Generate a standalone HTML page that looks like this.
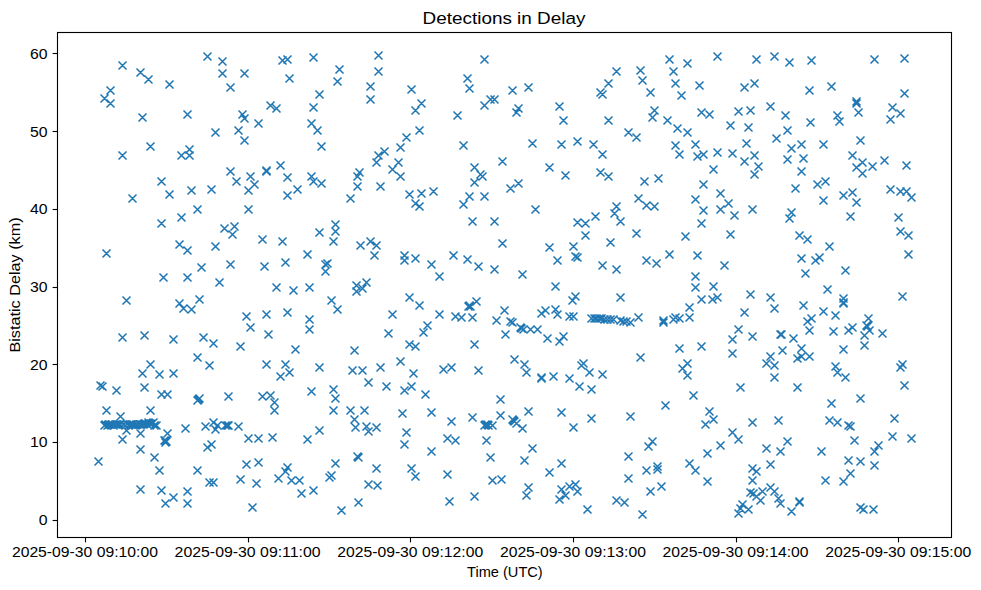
<!DOCTYPE html>
<html><head><meta charset="utf-8"><title>Detections in Delay</title>
<style>html,body{margin:0;padding:0;background:#fff;}svg{display:block;font-family:"Liberation Sans",sans-serif;}</style></head>
<body>
<svg width="981" height="590" viewBox="0 0 981 590">
<rect width="981" height="590" fill="#fff"/>
<g stroke="#1f77b4" stroke-width="1.55" fill="none">
<path d="M94.5,457.5l8,8m-8,0l8,-8M96.5,381.5l8,8m-8,0l8,-8M98.5,382.5l8,8m-8,0l8,-8M100.5,94.5l8,8m-8,0l8,-8M100.5,421.5l8,8m-8,0l8,-8M101.5,420.5l8,8m-8,0l8,-8M102.5,249.5l8,8m-8,0l8,-8M102.5,406.5l8,8m-8,0l8,-8M103.5,421.5l8,8m-8,0l8,-8M104.5,420.5l8,8m-8,0l8,-8M105.5,420.5l8,8m-8,0l8,-8M106.5,86.5l8,8m-8,0l8,-8M106.5,99.5l8,8m-8,0l8,-8M107.5,420.5l8,8m-8,0l8,-8M108.5,420.5l8,8m-8,0l8,-8M109.5,421.5l8,8m-8,0l8,-8M111.5,420.5l8,8m-8,0l8,-8M112.5,386.5l8,8m-8,0l8,-8M112.5,420.5l8,8m-8,0l8,-8M113.5,420.5l8,8m-8,0l8,-8M115.5,420.5l8,8m-8,0l8,-8M116.5,412.5l8,8m-8,0l8,-8M116.5,420.5l8,8m-8,0l8,-8M118.5,61.5l8,8m-8,0l8,-8M118.5,151.5l8,8m-8,0l8,-8M118.5,333.5l8,8m-8,0l8,-8M118.5,435.5l8,8m-8,0l8,-8M119.5,420.5l8,8m-8,0l8,-8M121.5,421.5l8,8m-8,0l8,-8M122.5,296.5l8,8m-8,0l8,-8M122.5,426.5l8,8m-8,0l8,-8M124.5,421.5l8,8m-8,0l8,-8M125.5,420.5l8,8m-8,0l8,-8M127.5,420.5l8,8m-8,0l8,-8M128.5,194.5l8,8m-8,0l8,-8M128.5,420.5l8,8m-8,0l8,-8M129.5,420.5l8,8m-8,0l8,-8M131.5,421.5l8,8m-8,0l8,-8M132.5,420.5l8,8m-8,0l8,-8M133.5,420.5l8,8m-8,0l8,-8"/>
<path d="M135.5,420.5l8,8m-8,0l8,-8M136.5,68.5l8,8m-8,0l8,-8M136.5,420.5l8,8m-8,0l8,-8M136.5,429.5l8,8m-8,0l8,-8M136.5,445.5l8,8m-8,0l8,-8M136.5,485.5l8,8m-8,0l8,-8M137.5,420.5l8,8m-8,0l8,-8M138.5,113.5l8,8m-8,0l8,-8M138.5,369.5l8,8m-8,0l8,-8M139.5,420.5l8,8m-8,0l8,-8M140.5,331.5l8,8m-8,0l8,-8M140.5,383.5l8,8m-8,0l8,-8M140.5,419.5l8,8m-8,0l8,-8M141.5,419.5l8,8m-8,0l8,-8M143.5,420.5l8,8m-8,0l8,-8M144.5,75.5l8,8m-8,0l8,-8M144.5,418.5l8,8m-8,0l8,-8M145.5,419.5l8,8m-8,0l8,-8M146.5,142.5l8,8m-8,0l8,-8M146.5,360.5l8,8m-8,0l8,-8M146.5,406.5l8,8m-8,0l8,-8M146.5,419.5l8,8m-8,0l8,-8M148.5,419.5l8,8m-8,0l8,-8M149.5,418.5l8,8m-8,0l8,-8M150.5,421.5l8,8m-8,0l8,-8M150.5,453.5l8,8m-8,0l8,-8M152.5,421.5l8,8m-8,0l8,-8M155.5,370.5l8,8m-8,0l8,-8M155.5,466.5l8,8m-8,0l8,-8M157.5,177.5l8,8m-8,0l8,-8M157.5,219.5l8,8m-8,0l8,-8M157.5,390.5l8,8m-8,0l8,-8M157.5,486.5l8,8m-8,0l8,-8M159.5,273.5l8,8m-8,0l8,-8M160.5,436.5l8,8m-8,0l8,-8M161.5,436.5l8,8m-8,0l8,-8M161.5,438.5l8,8m-8,0l8,-8M161.5,499.5l8,8m-8,0l8,-8M162.5,437.5l8,8m-8,0l8,-8M163.5,390.5l8,8m-8,0l8,-8"/>
<path d="M163.5,429.5l8,8m-8,0l8,-8M165.5,80.5l8,8m-8,0l8,-8M165.5,190.5l8,8m-8,0l8,-8M169.5,335.5l8,8m-8,0l8,-8M169.5,369.5l8,8m-8,0l8,-8M169.5,493.5l8,8m-8,0l8,-8M175.5,240.5l8,8m-8,0l8,-8M175.5,299.5l8,8m-8,0l8,-8M177.5,151.5l8,8m-8,0l8,-8M177.5,213.5l8,8m-8,0l8,-8M179.5,304.5l8,8m-8,0l8,-8M181.5,424.5l8,8m-8,0l8,-8M183.5,110.5l8,8m-8,0l8,-8M183.5,246.5l8,8m-8,0l8,-8M183.5,273.5l8,8m-8,0l8,-8M183.5,487.5l8,8m-8,0l8,-8M183.5,499.5l8,8m-8,0l8,-8M185.5,145.5l8,8m-8,0l8,-8M185.5,151.5l8,8m-8,0l8,-8M187.5,186.5l8,8m-8,0l8,-8M187.5,305.5l8,8m-8,0l8,-8M193.5,205.5l8,8m-8,0l8,-8M193.5,353.5l8,8m-8,0l8,-8M193.5,396.5l8,8m-8,0l8,-8M193.5,466.5l8,8m-8,0l8,-8M194.5,395.5l8,8m-8,0l8,-8M195.5,295.5l8,8m-8,0l8,-8M195.5,394.5l8,8m-8,0l8,-8M197.5,263.5l8,8m-8,0l8,-8M199.5,333.5l8,8m-8,0l8,-8M201.5,422.5l8,8m-8,0l8,-8M203.5,52.5l8,8m-8,0l8,-8M203.5,443.5l8,8m-8,0l8,-8M205.5,361.5l8,8m-8,0l8,-8M205.5,478.5l8,8m-8,0l8,-8M207.5,185.5l8,8m-8,0l8,-8M207.5,440.5l8,8m-8,0l8,-8M209.5,339.5l8,8m-8,0l8,-8M209.5,418.5l8,8m-8,0l8,-8M209.5,478.5l8,8m-8,0l8,-8"/>
<path d="M211.5,128.5l8,8m-8,0l8,-8M211.5,242.5l8,8m-8,0l8,-8M211.5,425.5l8,8m-8,0l8,-8M213.5,421.5l8,8m-8,0l8,-8M215.5,278.5l8,8m-8,0l8,-8M218.5,57.5l8,8m-8,0l8,-8M218.5,69.5l8,8m-8,0l8,-8M220.5,224.5l8,8m-8,0l8,-8M221.5,421.5l8,8m-8,0l8,-8M223.5,421.5l8,8m-8,0l8,-8M224.5,392.5l8,8m-8,0l8,-8M224.5,421.5l8,8m-8,0l8,-8M226.5,83.5l8,8m-8,0l8,-8M226.5,167.5l8,8m-8,0l8,-8M226.5,260.5l8,8m-8,0l8,-8M228.5,230.5l8,8m-8,0l8,-8M230.5,222.5l8,8m-8,0l8,-8M232.5,177.5l8,8m-8,0l8,-8M234.5,126.5l8,8m-8,0l8,-8M234.5,422.5l8,8m-8,0l8,-8M236.5,342.5l8,8m-8,0l8,-8M236.5,475.5l8,8m-8,0l8,-8M238.5,110.5l8,8m-8,0l8,-8M240.5,69.5l8,8m-8,0l8,-8M240.5,114.5l8,8m-8,0l8,-8M240.5,136.5l8,8m-8,0l8,-8M242.5,312.5l8,8m-8,0l8,-8M242.5,460.5l8,8m-8,0l8,-8M244.5,186.5l8,8m-8,0l8,-8M244.5,205.5l8,8m-8,0l8,-8M244.5,434.5l8,8m-8,0l8,-8M246.5,172.5l8,8m-8,0l8,-8M246.5,323.5l8,8m-8,0l8,-8M248.5,503.5l8,8m-8,0l8,-8M250.5,180.5l8,8m-8,0l8,-8M252.5,479.5l8,8m-8,0l8,-8M254.5,119.5l8,8m-8,0l8,-8M254.5,434.5l8,8m-8,0l8,-8M254.5,458.5l8,8m-8,0l8,-8M258.5,235.5l8,8m-8,0l8,-8"/>
<path d="M258.5,392.5l8,8m-8,0l8,-8M260.5,262.5l8,8m-8,0l8,-8M262.5,166.5l8,8m-8,0l8,-8M262.5,167.5l8,8m-8,0l8,-8M262.5,310.5l8,8m-8,0l8,-8M262.5,360.5l8,8m-8,0l8,-8M264.5,330.5l8,8m-8,0l8,-8M266.5,101.5l8,8m-8,0l8,-8M266.5,391.5l8,8m-8,0l8,-8M268.5,433.5l8,8m-8,0l8,-8M270.5,398.5l8,8m-8,0l8,-8M270.5,406.5l8,8m-8,0l8,-8M272.5,104.5l8,8m-8,0l8,-8M272.5,283.5l8,8m-8,0l8,-8M274.5,474.5l8,8m-8,0l8,-8M276.5,161.5l8,8m-8,0l8,-8M276.5,372.5l8,8m-8,0l8,-8M278.5,56.5l8,8m-8,0l8,-8M278.5,237.5l8,8m-8,0l8,-8M281.5,258.5l8,8m-8,0l8,-8M281.5,360.5l8,8m-8,0l8,-8M281.5,467.5l8,8m-8,0l8,-8M283.5,55.5l8,8m-8,0l8,-8M283.5,173.5l8,8m-8,0l8,-8M283.5,191.5l8,8m-8,0l8,-8M283.5,308.5l8,8m-8,0l8,-8M283.5,463.5l8,8m-8,0l8,-8M285.5,74.5l8,8m-8,0l8,-8M285.5,368.5l8,8m-8,0l8,-8M287.5,476.5l8,8m-8,0l8,-8M289.5,286.5l8,8m-8,0l8,-8M291.5,345.5l8,8m-8,0l8,-8M293.5,185.5l8,8m-8,0l8,-8M295.5,476.5l8,8m-8,0l8,-8M297.5,489.5l8,8m-8,0l8,-8M303.5,250.5l8,8m-8,0l8,-8M303.5,435.5l8,8m-8,0l8,-8M305.5,283.5l8,8m-8,0l8,-8M305.5,315.5l8,8m-8,0l8,-8M305.5,325.5l8,8m-8,0l8,-8"/>
<path d="M307.5,119.5l8,8m-8,0l8,-8M307.5,172.5l8,8m-8,0l8,-8M307.5,387.5l8,8m-8,0l8,-8M309.5,53.5l8,8m-8,0l8,-8M309.5,103.5l8,8m-8,0l8,-8M309.5,177.5l8,8m-8,0l8,-8M309.5,486.5l8,8m-8,0l8,-8M313.5,126.5l8,8m-8,0l8,-8M315.5,90.5l8,8m-8,0l8,-8M315.5,228.5l8,8m-8,0l8,-8M315.5,363.5l8,8m-8,0l8,-8M315.5,426.5l8,8m-8,0l8,-8M317.5,142.5l8,8m-8,0l8,-8M317.5,179.5l8,8m-8,0l8,-8M321.5,260.5l8,8m-8,0l8,-8M321.5,267.5l8,8m-8,0l8,-8M323.5,259.5l8,8m-8,0l8,-8M325.5,473.5l8,8m-8,0l8,-8M327.5,296.5l8,8m-8,0l8,-8M327.5,471.5l8,8m-8,0l8,-8M329.5,237.5l8,8m-8,0l8,-8M329.5,385.5l8,8m-8,0l8,-8M329.5,406.5l8,8m-8,0l8,-8M331.5,220.5l8,8m-8,0l8,-8M331.5,227.5l8,8m-8,0l8,-8M331.5,394.5l8,8m-8,0l8,-8M331.5,459.5l8,8m-8,0l8,-8M333.5,77.5l8,8m-8,0l8,-8M333.5,305.5l8,8m-8,0l8,-8M335.5,65.5l8,8m-8,0l8,-8M337.5,506.5l8,8m-8,0l8,-8M346.5,194.5l8,8m-8,0l8,-8M346.5,406.5l8,8m-8,0l8,-8M348.5,366.5l8,8m-8,0l8,-8M350.5,346.5l8,8m-8,0l8,-8M350.5,415.5l8,8m-8,0l8,-8M351.5,423.5l8,8m-8,0l8,-8M352.5,281.5l8,8m-8,0l8,-8M352.5,287.5l8,8m-8,0l8,-8M353.5,172.5l8,8m-8,0l8,-8"/>
<path d="M353.5,182.5l8,8m-8,0l8,-8M353.5,452.5l8,8m-8,0l8,-8M354.5,453.5l8,8m-8,0l8,-8M354.5,498.5l8,8m-8,0l8,-8M355.5,168.5l8,8m-8,0l8,-8M356.5,241.5l8,8m-8,0l8,-8M358.5,284.5l8,8m-8,0l8,-8M358.5,366.5l8,8m-8,0l8,-8M360.5,406.5l8,8m-8,0l8,-8M362.5,278.5l8,8m-8,0l8,-8M362.5,422.5l8,8m-8,0l8,-8M364.5,378.5l8,8m-8,0l8,-8M364.5,427.5l8,8m-8,0l8,-8M364.5,480.5l8,8m-8,0l8,-8M366.5,82.5l8,8m-8,0l8,-8M366.5,95.5l8,8m-8,0l8,-8M366.5,237.5l8,8m-8,0l8,-8M370.5,251.5l8,8m-8,0l8,-8M372.5,158.5l8,8m-8,0l8,-8M372.5,241.5l8,8m-8,0l8,-8M372.5,423.5l8,8m-8,0l8,-8M372.5,464.5l8,8m-8,0l8,-8M373.5,481.5l8,8m-8,0l8,-8M374.5,51.5l8,8m-8,0l8,-8M374.5,67.5l8,8m-8,0l8,-8M374.5,151.5l8,8m-8,0l8,-8M376.5,182.5l8,8m-8,0l8,-8M376.5,363.5l8,8m-8,0l8,-8M380.5,147.5l8,8m-8,0l8,-8M382.5,382.5l8,8m-8,0l8,-8M384.5,329.5l8,8m-8,0l8,-8M388.5,165.5l8,8m-8,0l8,-8M388.5,310.5l8,8m-8,0l8,-8M394.5,158.5l8,8m-8,0l8,-8M396.5,143.5l8,8m-8,0l8,-8M396.5,172.5l8,8m-8,0l8,-8M396.5,357.5l8,8m-8,0l8,-8M398.5,409.5l8,8m-8,0l8,-8M400.5,251.5l8,8m-8,0l8,-8M400.5,256.5l8,8m-8,0l8,-8"/>
<path d="M400.5,386.5l8,8m-8,0l8,-8M400.5,440.5l8,8m-8,0l8,-8M402.5,133.5l8,8m-8,0l8,-8M402.5,428.5l8,8m-8,0l8,-8M405.5,190.5l8,8m-8,0l8,-8M405.5,293.5l8,8m-8,0l8,-8M405.5,340.5l8,8m-8,0l8,-8M407.5,85.5l8,8m-8,0l8,-8M407.5,382.5l8,8m-8,0l8,-8M407.5,464.5l8,8m-8,0l8,-8M409.5,369.5l8,8m-8,0l8,-8M411.5,106.5l8,8m-8,0l8,-8M411.5,199.5l8,8m-8,0l8,-8M411.5,254.5l8,8m-8,0l8,-8M411.5,342.5l8,8m-8,0l8,-8M411.5,472.5l8,8m-8,0l8,-8M415.5,126.5l8,8m-8,0l8,-8M415.5,202.5l8,8m-8,0l8,-8M415.5,301.5l8,8m-8,0l8,-8M417.5,99.5l8,8m-8,0l8,-8M417.5,189.5l8,8m-8,0l8,-8M419.5,328.5l8,8m-8,0l8,-8M421.5,390.5l8,8m-8,0l8,-8M423.5,321.5l8,8m-8,0l8,-8M427.5,260.5l8,8m-8,0l8,-8M427.5,408.5l8,8m-8,0l8,-8M427.5,447.5l8,8m-8,0l8,-8M429.5,187.5l8,8m-8,0l8,-8M435.5,272.5l8,8m-8,0l8,-8M435.5,310.5l8,8m-8,0l8,-8M439.5,365.5l8,8m-8,0l8,-8M443.5,434.5l8,8m-8,0l8,-8M443.5,470.5l8,8m-8,0l8,-8M445.5,497.5l8,8m-8,0l8,-8M447.5,363.5l8,8m-8,0l8,-8M447.5,417.5l8,8m-8,0l8,-8M449.5,251.5l8,8m-8,0l8,-8M451.5,312.5l8,8m-8,0l8,-8M451.5,436.5l8,8m-8,0l8,-8M453.5,111.5l8,8m-8,0l8,-8"/>
<path d="M457.5,313.5l8,8m-8,0l8,-8M459.5,141.5l8,8m-8,0l8,-8M459.5,200.5l8,8m-8,0l8,-8M463.5,74.5l8,8m-8,0l8,-8M463.5,255.5l8,8m-8,0l8,-8M464.5,302.5l8,8m-8,0l8,-8M465.5,84.5l8,8m-8,0l8,-8M465.5,192.5l8,8m-8,0l8,-8M465.5,301.5l8,8m-8,0l8,-8M466.5,302.5l8,8m-8,0l8,-8M468.5,217.5l8,8m-8,0l8,-8M468.5,313.5l8,8m-8,0l8,-8M468.5,413.5l8,8m-8,0l8,-8M470.5,163.5l8,8m-8,0l8,-8M470.5,178.5l8,8m-8,0l8,-8M470.5,340.5l8,8m-8,0l8,-8M470.5,492.5l8,8m-8,0l8,-8M472.5,297.5l8,8m-8,0l8,-8M474.5,262.5l8,8m-8,0l8,-8M474.5,366.5l8,8m-8,0l8,-8M476.5,170.5l8,8m-8,0l8,-8M478.5,172.5l8,8m-8,0l8,-8M480.5,55.5l8,8m-8,0l8,-8M480.5,101.5l8,8m-8,0l8,-8M480.5,192.5l8,8m-8,0l8,-8M480.5,421.5l8,8m-8,0l8,-8M481.5,420.5l8,8m-8,0l8,-8M482.5,436.5l8,8m-8,0l8,-8M483.5,420.5l8,8m-8,0l8,-8M484.5,421.5l8,8m-8,0l8,-8M486.5,95.5l8,8m-8,0l8,-8M486.5,453.5l8,8m-8,0l8,-8M488.5,421.5l8,8m-8,0l8,-8M488.5,476.5l8,8m-8,0l8,-8M490.5,95.5l8,8m-8,0l8,-8M490.5,217.5l8,8m-8,0l8,-8M490.5,265.5l8,8m-8,0l8,-8M492.5,316.5l8,8m-8,0l8,-8M496.5,395.5l8,8m-8,0l8,-8M496.5,411.5l8,8m-8,0l8,-8"/>
<path d="M497.5,475.5l8,8m-8,0l8,-8M498.5,157.5l8,8m-8,0l8,-8M498.5,239.5l8,8m-8,0l8,-8M500.5,306.5l8,8m-8,0l8,-8M501.5,330.5l8,8m-8,0l8,-8M506.5,184.5l8,8m-8,0l8,-8M506.5,317.5l8,8m-8,0l8,-8M508.5,86.5l8,8m-8,0l8,-8M508.5,318.5l8,8m-8,0l8,-8M508.5,415.5l8,8m-8,0l8,-8M509.5,416.5l8,8m-8,0l8,-8M510.5,355.5l8,8m-8,0l8,-8M510.5,417.5l8,8m-8,0l8,-8M512.5,108.5l8,8m-8,0l8,-8M512.5,419.5l8,8m-8,0l8,-8M514.5,104.5l8,8m-8,0l8,-8M514.5,179.5l8,8m-8,0l8,-8M516.5,323.5l8,8m-8,0l8,-8M517.5,324.5l8,8m-8,0l8,-8M518.5,270.5l8,8m-8,0l8,-8M518.5,424.5l8,8m-8,0l8,-8M519.5,325.5l8,8m-8,0l8,-8M520.5,360.5l8,8m-8,0l8,-8M520.5,456.5l8,8m-8,0l8,-8M522.5,368.5l8,8m-8,0l8,-8M522.5,491.5l8,8m-8,0l8,-8M524.5,83.5l8,8m-8,0l8,-8M524.5,407.5l8,8m-8,0l8,-8M524.5,483.5l8,8m-8,0l8,-8M526.5,325.5l8,8m-8,0l8,-8M528.5,139.5l8,8m-8,0l8,-8M528.5,444.5l8,8m-8,0l8,-8M531.5,205.5l8,8m-8,0l8,-8M533.5,325.5l8,8m-8,0l8,-8M537.5,309.5l8,8m-8,0l8,-8M537.5,373.5l8,8m-8,0l8,-8M537.5,374.5l8,8m-8,0l8,-8M541.5,306.5l8,8m-8,0l8,-8M543.5,334.5l8,8m-8,0l8,-8M545.5,163.5l8,8m-8,0l8,-8"/>
<path d="M545.5,243.5l8,8m-8,0l8,-8M545.5,468.5l8,8m-8,0l8,-8M549.5,372.5l8,8m-8,0l8,-8M551.5,282.5l8,8m-8,0l8,-8M551.5,305.5l8,8m-8,0l8,-8M553.5,256.5l8,8m-8,0l8,-8M553.5,310.5l8,8m-8,0l8,-8M555.5,102.5l8,8m-8,0l8,-8M555.5,337.5l8,8m-8,0l8,-8M555.5,495.5l8,8m-8,0l8,-8M557.5,140.5l8,8m-8,0l8,-8M557.5,408.5l8,8m-8,0l8,-8M557.5,459.5l8,8m-8,0l8,-8M557.5,485.5l8,8m-8,0l8,-8M559.5,116.5l8,8m-8,0l8,-8M559.5,332.5l8,8m-8,0l8,-8M561.5,171.5l8,8m-8,0l8,-8M561.5,491.5l8,8m-8,0l8,-8M565.5,312.5l8,8m-8,0l8,-8M565.5,374.5l8,8m-8,0l8,-8M565.5,482.5l8,8m-8,0l8,-8M568.5,296.5l8,8m-8,0l8,-8M569.5,242.5l8,8m-8,0l8,-8M569.5,312.5l8,8m-8,0l8,-8M569.5,423.5l8,8m-8,0l8,-8M571.5,252.5l8,8m-8,0l8,-8M571.5,292.5l8,8m-8,0l8,-8M571.5,480.5l8,8m-8,0l8,-8M573.5,137.5l8,8m-8,0l8,-8M573.5,218.5l8,8m-8,0l8,-8M573.5,253.5l8,8m-8,0l8,-8M573.5,487.5l8,8m-8,0l8,-8M575.5,382.5l8,8m-8,0l8,-8M577.5,361.5l8,8m-8,0l8,-8M579.5,359.5l8,8m-8,0l8,-8M581.5,219.5l8,8m-8,0l8,-8M581.5,231.5l8,8m-8,0l8,-8M583.5,505.5l8,8m-8,0l8,-8M585.5,368.5l8,8m-8,0l8,-8M587.5,314.5l8,8m-8,0l8,-8"/>
<path d="M587.5,385.5l8,8m-8,0l8,-8M587.5,414.5l8,8m-8,0l8,-8M589.5,140.5l8,8m-8,0l8,-8M590.5,314.5l8,8m-8,0l8,-8M591.5,212.5l8,8m-8,0l8,-8M592.5,314.5l8,8m-8,0l8,-8M595.5,314.5l8,8m-8,0l8,-8M596.5,88.5l8,8m-8,0l8,-8M596.5,168.5l8,8m-8,0l8,-8M597.5,314.5l8,8m-8,0l8,-8M598.5,90.5l8,8m-8,0l8,-8M598.5,150.5l8,8m-8,0l8,-8M598.5,261.5l8,8m-8,0l8,-8M598.5,370.5l8,8m-8,0l8,-8M600.5,315.5l8,8m-8,0l8,-8M603.5,315.5l8,8m-8,0l8,-8M604.5,79.5l8,8m-8,0l8,-8M604.5,116.5l8,8m-8,0l8,-8M604.5,172.5l8,8m-8,0l8,-8M606.5,238.5l8,8m-8,0l8,-8M606.5,315.5l8,8m-8,0l8,-8M609.5,315.5l8,8m-8,0l8,-8M610.5,209.5l8,8m-8,0l8,-8M612.5,67.5l8,8m-8,0l8,-8M612.5,202.5l8,8m-8,0l8,-8M612.5,265.5l8,8m-8,0l8,-8M612.5,496.5l8,8m-8,0l8,-8M616.5,217.5l8,8m-8,0l8,-8M616.5,293.5l8,8m-8,0l8,-8M616.5,316.5l8,8m-8,0l8,-8M619.5,317.5l8,8m-8,0l8,-8M620.5,498.5l8,8m-8,0l8,-8M622.5,317.5l8,8m-8,0l8,-8M624.5,128.5l8,8m-8,0l8,-8M624.5,452.5l8,8m-8,0l8,-8M624.5,474.5l8,8m-8,0l8,-8M626.5,318.5l8,8m-8,0l8,-8M626.5,412.5l8,8m-8,0l8,-8M632.5,133.5l8,8m-8,0l8,-8M632.5,229.5l8,8m-8,0l8,-8"/>
<path d="M634.5,194.5l8,8m-8,0l8,-8M634.5,313.5l8,8m-8,0l8,-8M636.5,66.5l8,8m-8,0l8,-8M636.5,353.5l8,8m-8,0l8,-8M638.5,76.5l8,8m-8,0l8,-8M638.5,510.5l8,8m-8,0l8,-8M640.5,177.5l8,8m-8,0l8,-8M642.5,201.5l8,8m-8,0l8,-8M642.5,256.5l8,8m-8,0l8,-8M642.5,466.5l8,8m-8,0l8,-8M644.5,442.5l8,8m-8,0l8,-8M646.5,88.5l8,8m-8,0l8,-8M646.5,487.5l8,8m-8,0l8,-8M648.5,113.5l8,8m-8,0l8,-8M648.5,437.5l8,8m-8,0l8,-8M650.5,106.5l8,8m-8,0l8,-8M650.5,202.5l8,8m-8,0l8,-8M652.5,259.5l8,8m-8,0l8,-8M653.5,462.5l8,8m-8,0l8,-8M653.5,465.5l8,8m-8,0l8,-8M654.5,174.5l8,8m-8,0l8,-8M657.5,482.5l8,8m-8,0l8,-8M659.5,316.5l8,8m-8,0l8,-8M659.5,318.5l8,8m-8,0l8,-8M661.5,401.5l8,8m-8,0l8,-8M663.5,116.5l8,8m-8,0l8,-8M665.5,55.5l8,8m-8,0l8,-8M665.5,250.5l8,8m-8,0l8,-8M669.5,67.5l8,8m-8,0l8,-8M669.5,315.5l8,8m-8,0l8,-8M671.5,79.5l8,8m-8,0l8,-8M671.5,141.5l8,8m-8,0l8,-8M671.5,313.5l8,8m-8,0l8,-8M673.5,124.5l8,8m-8,0l8,-8M675.5,150.5l8,8m-8,0l8,-8M675.5,314.5l8,8m-8,0l8,-8M675.5,344.5l8,8m-8,0l8,-8M677.5,91.5l8,8m-8,0l8,-8M678.5,364.5l8,8m-8,0l8,-8M681.5,232.5l8,8m-8,0l8,-8"/>
<path d="M683.5,59.5l8,8m-8,0l8,-8M683.5,128.5l8,8m-8,0l8,-8M683.5,359.5l8,8m-8,0l8,-8M683.5,371.5l8,8m-8,0l8,-8M685.5,303.5l8,8m-8,0l8,-8M685.5,313.5l8,8m-8,0l8,-8M685.5,459.5l8,8m-8,0l8,-8M689.5,391.5l8,8m-8,0l8,-8M691.5,140.5l8,8m-8,0l8,-8M691.5,195.5l8,8m-8,0l8,-8M691.5,272.5l8,8m-8,0l8,-8M691.5,283.5l8,8m-8,0l8,-8M691.5,466.5l8,8m-8,0l8,-8M693.5,152.5l8,8m-8,0l8,-8M693.5,251.5l8,8m-8,0l8,-8M695.5,81.5l8,8m-8,0l8,-8M697.5,108.5l8,8m-8,0l8,-8M697.5,219.5l8,8m-8,0l8,-8M697.5,295.5l8,8m-8,0l8,-8M697.5,342.5l8,8m-8,0l8,-8M699.5,150.5l8,8m-8,0l8,-8M699.5,180.5l8,8m-8,0l8,-8M699.5,206.5l8,8m-8,0l8,-8M701.5,420.5l8,8m-8,0l8,-8M703.5,449.5l8,8m-8,0l8,-8M703.5,477.5l8,8m-8,0l8,-8M705.5,110.5l8,8m-8,0l8,-8M705.5,407.5l8,8m-8,0l8,-8M708.5,295.5l8,8m-8,0l8,-8M709.5,165.5l8,8m-8,0l8,-8M709.5,282.5l8,8m-8,0l8,-8M709.5,415.5l8,8m-8,0l8,-8M713.5,52.5l8,8m-8,0l8,-8M713.5,148.5l8,8m-8,0l8,-8M713.5,293.5l8,8m-8,0l8,-8M716.5,189.5l8,8m-8,0l8,-8M716.5,205.5l8,8m-8,0l8,-8M716.5,441.5l8,8m-8,0l8,-8M720.5,261.5l8,8m-8,0l8,-8M724.5,199.5l8,8m-8,0l8,-8"/>
<path d="M726.5,121.5l8,8m-8,0l8,-8M726.5,230.5l8,8m-8,0l8,-8M728.5,149.5l8,8m-8,0l8,-8M728.5,335.5l8,8m-8,0l8,-8M728.5,349.5l8,8m-8,0l8,-8M728.5,428.5l8,8m-8,0l8,-8M730.5,211.5l8,8m-8,0l8,-8M734.5,107.5l8,8m-8,0l8,-8M734.5,325.5l8,8m-8,0l8,-8M734.5,435.5l8,8m-8,0l8,-8M734.5,509.5l8,8m-8,0l8,-8M736.5,383.5l8,8m-8,0l8,-8M736.5,504.5l8,8m-8,0l8,-8M738.5,500.5l8,8m-8,0l8,-8M740.5,83.5l8,8m-8,0l8,-8M740.5,157.5l8,8m-8,0l8,-8M740.5,308.5l8,8m-8,0l8,-8M742.5,139.5l8,8m-8,0l8,-8M744.5,123.5l8,8m-8,0l8,-8M744.5,505.5l8,8m-8,0l8,-8M746.5,106.5l8,8m-8,0l8,-8M746.5,290.5l8,8m-8,0l8,-8M746.5,488.5l8,8m-8,0l8,-8M748.5,205.5l8,8m-8,0l8,-8M748.5,332.5l8,8m-8,0l8,-8M748.5,418.5l8,8m-8,0l8,-8M748.5,464.5l8,8m-8,0l8,-8M748.5,476.5l8,8m-8,0l8,-8M749.5,489.5l8,8m-8,0l8,-8M750.5,79.5l8,8m-8,0l8,-8M750.5,151.5l8,8m-8,0l8,-8M750.5,170.5l8,8m-8,0l8,-8M752.5,55.5l8,8m-8,0l8,-8M752.5,467.5l8,8m-8,0l8,-8M752.5,492.5l8,8m-8,0l8,-8M754.5,162.5l8,8m-8,0l8,-8M756.5,496.5l8,8m-8,0l8,-8M758.5,487.5l8,8m-8,0l8,-8M762.5,359.5l8,8m-8,0l8,-8M762.5,444.5l8,8m-8,0l8,-8"/>
<path d="M766.5,102.5l8,8m-8,0l8,-8M766.5,293.5l8,8m-8,0l8,-8M766.5,352.5l8,8m-8,0l8,-8M766.5,460.5l8,8m-8,0l8,-8M766.5,483.5l8,8m-8,0l8,-8M770.5,52.5l8,8m-8,0l8,-8M770.5,304.5l8,8m-8,0l8,-8M770.5,361.5l8,8m-8,0l8,-8M770.5,373.5l8,8m-8,0l8,-8M770.5,487.5l8,8m-8,0l8,-8M772.5,134.5l8,8m-8,0l8,-8M774.5,416.5l8,8m-8,0l8,-8M774.5,494.5l8,8m-8,0l8,-8M776.5,330.5l8,8m-8,0l8,-8M776.5,447.5l8,8m-8,0l8,-8M776.5,499.5l8,8m-8,0l8,-8M777.5,330.5l8,8m-8,0l8,-8M778.5,346.5l8,8m-8,0l8,-8M781.5,111.5l8,8m-8,0l8,-8M783.5,126.5l8,8m-8,0l8,-8M783.5,155.5l8,8m-8,0l8,-8M783.5,437.5l8,8m-8,0l8,-8M785.5,58.5l8,8m-8,0l8,-8M785.5,214.5l8,8m-8,0l8,-8M787.5,144.5l8,8m-8,0l8,-8M787.5,208.5l8,8m-8,0l8,-8M787.5,507.5l8,8m-8,0l8,-8M789.5,334.5l8,8m-8,0l8,-8M791.5,184.5l8,8m-8,0l8,-8M793.5,354.5l8,8m-8,0l8,-8M793.5,383.5l8,8m-8,0l8,-8M795.5,231.5l8,8m-8,0l8,-8M795.5,497.5l8,8m-8,0l8,-8M795.5,498.5l8,8m-8,0l8,-8M797.5,140.5l8,8m-8,0l8,-8M797.5,167.5l8,8m-8,0l8,-8M797.5,254.5l8,8m-8,0l8,-8M797.5,344.5l8,8m-8,0l8,-8M797.5,352.5l8,8m-8,0l8,-8M799.5,154.5l8,8m-8,0l8,-8"/>
<path d="M799.5,301.5l8,8m-8,0l8,-8M801.5,269.5l8,8m-8,0l8,-8M803.5,235.5l8,8m-8,0l8,-8M803.5,317.5l8,8m-8,0l8,-8M805.5,86.5l8,8m-8,0l8,-8M805.5,326.5l8,8m-8,0l8,-8M805.5,352.5l8,8m-8,0l8,-8M806.5,118.5l8,8m-8,0l8,-8M807.5,56.5l8,8m-8,0l8,-8M807.5,314.5l8,8m-8,0l8,-8M811.5,256.5l8,8m-8,0l8,-8M813.5,180.5l8,8m-8,0l8,-8M815.5,253.5l8,8m-8,0l8,-8M817.5,447.5l8,8m-8,0l8,-8M819.5,140.5l8,8m-8,0l8,-8M819.5,196.5l8,8m-8,0l8,-8M819.5,307.5l8,8m-8,0l8,-8M821.5,177.5l8,8m-8,0l8,-8M821.5,476.5l8,8m-8,0l8,-8M823.5,285.5l8,8m-8,0l8,-8M825.5,242.5l8,8m-8,0l8,-8M825.5,416.5l8,8m-8,0l8,-8M827.5,82.5l8,8m-8,0l8,-8M827.5,399.5l8,8m-8,0l8,-8M829.5,327.5l8,8m-8,0l8,-8M831.5,311.5l8,8m-8,0l8,-8M831.5,362.5l8,8m-8,0l8,-8M833.5,111.5l8,8m-8,0l8,-8M833.5,368.5l8,8m-8,0l8,-8M833.5,418.5l8,8m-8,0l8,-8M835.5,117.5l8,8m-8,0l8,-8M839.5,191.5l8,8m-8,0l8,-8M839.5,294.5l8,8m-8,0l8,-8M839.5,298.5l8,8m-8,0l8,-8M839.5,299.5l8,8m-8,0l8,-8M839.5,345.5l8,8m-8,0l8,-8M839.5,477.5l8,8m-8,0l8,-8M841.5,266.5l8,8m-8,0l8,-8M841.5,373.5l8,8m-8,0l8,-8M844.5,326.5l8,8m-8,0l8,-8"/>
<path d="M844.5,421.5l8,8m-8,0l8,-8M844.5,456.5l8,8m-8,0l8,-8M846.5,212.5l8,8m-8,0l8,-8M846.5,422.5l8,8m-8,0l8,-8M846.5,469.5l8,8m-8,0l8,-8M848.5,151.5l8,8m-8,0l8,-8M848.5,188.5l8,8m-8,0l8,-8M848.5,323.5l8,8m-8,0l8,-8M850.5,436.5l8,8m-8,0l8,-8M852.5,97.5l8,8m-8,0l8,-8M852.5,99.5l8,8m-8,0l8,-8M852.5,163.5l8,8m-8,0l8,-8M852.5,198.5l8,8m-8,0l8,-8M854.5,108.5l8,8m-8,0l8,-8M856.5,136.5l8,8m-8,0l8,-8M856.5,394.5l8,8m-8,0l8,-8M856.5,457.5l8,8m-8,0l8,-8M856.5,503.5l8,8m-8,0l8,-8M858.5,158.5l8,8m-8,0l8,-8M858.5,169.5l8,8m-8,0l8,-8M859.5,505.5l8,8m-8,0l8,-8M860.5,331.5l8,8m-8,0l8,-8M860.5,341.5l8,8m-8,0l8,-8M862.5,321.5l8,8m-8,0l8,-8M863.5,322.5l8,8m-8,0l8,-8M864.5,314.5l8,8m-8,0l8,-8M865.5,326.5l8,8m-8,0l8,-8M868.5,162.5l8,8m-8,0l8,-8M869.5,505.5l8,8m-8,0l8,-8M870.5,55.5l8,8m-8,0l8,-8M870.5,447.5l8,8m-8,0l8,-8M870.5,461.5l8,8m-8,0l8,-8M874.5,441.5l8,8m-8,0l8,-8M878.5,329.5l8,8m-8,0l8,-8M880.5,156.5l8,8m-8,0l8,-8M886.5,115.5l8,8m-8,0l8,-8M886.5,185.5l8,8m-8,0l8,-8M888.5,103.5l8,8m-8,0l8,-8M888.5,432.5l8,8m-8,0l8,-8M890.5,414.5l8,8m-8,0l8,-8"/>
<path d="M894.5,213.5l8,8m-8,0l8,-8M896.5,109.5l8,8m-8,0l8,-8M896.5,187.5l8,8m-8,0l8,-8M896.5,227.5l8,8m-8,0l8,-8M896.5,363.5l8,8m-8,0l8,-8M898.5,292.5l8,8m-8,0l8,-8M898.5,360.5l8,8m-8,0l8,-8M900.5,54.5l8,8m-8,0l8,-8M900.5,89.5l8,8m-8,0l8,-8M900.5,381.5l8,8m-8,0l8,-8M902.5,161.5l8,8m-8,0l8,-8M902.5,187.5l8,8m-8,0l8,-8M904.5,231.5l8,8m-8,0l8,-8M904.5,250.5l8,8m-8,0l8,-8M907.5,193.5l8,8m-8,0l8,-8M907.5,434.5l8,8m-8,0l8,-8"/>
</g>
<rect x="57.5" y="32.5" width="894.0" height="505.0" fill="none" stroke="#000" stroke-width="1.11"/>
<g stroke="#000" stroke-width="1.11">
<line x1="85.5" y1="537.5" x2="85.5" y2="542.4"/>
<line x1="248.5" y1="537.5" x2="248.5" y2="542.4"/>
<line x1="410.5" y1="537.5" x2="410.5" y2="542.4"/>
<line x1="573.5" y1="537.5" x2="573.5" y2="542.4"/>
<line x1="736.5" y1="537.5" x2="736.5" y2="542.4"/>
<line x1="898.5" y1="537.5" x2="898.5" y2="542.4"/>
<line x1="52.6" y1="520.5" x2="57.5" y2="520.5"/>
<line x1="52.6" y1="442.5" x2="57.5" y2="442.5"/>
<line x1="52.6" y1="364.5" x2="57.5" y2="364.5"/>
<line x1="52.6" y1="287.5" x2="57.5" y2="287.5"/>
<line x1="52.6" y1="209.5" x2="57.5" y2="209.5"/>
<line x1="52.6" y1="131.5" x2="57.5" y2="131.5"/>
<line x1="52.6" y1="53.5" x2="57.5" y2="53.5"/>
</g>
<g font-size="14.1" fill="#000">
<text x="11.9" y="556.9" textLength="146.0" lengthAdjust="spacingAndGlyphs">2025-09-30 09:10:00</text>
<text x="174.6" y="556.9" textLength="146.0" lengthAdjust="spacingAndGlyphs">2025-09-30 09:11:00</text>
<text x="337.2" y="556.9" textLength="146.0" lengthAdjust="spacingAndGlyphs">2025-09-30 09:12:00</text>
<text x="499.9" y="556.9" textLength="146.0" lengthAdjust="spacingAndGlyphs">2025-09-30 09:13:00</text>
<text x="662.5" y="556.9" textLength="146.0" lengthAdjust="spacingAndGlyphs">2025-09-30 09:14:00</text>
<text x="825.2" y="556.9" textLength="146.0" lengthAdjust="spacingAndGlyphs">2025-09-30 09:15:00</text>
<text x="38.8" y="525.1" textLength="8.8" lengthAdjust="spacingAndGlyphs">0</text>
<text x="30.0" y="447.1" textLength="17.6" lengthAdjust="spacingAndGlyphs">10</text>
<text x="30.0" y="370.1" textLength="17.6" lengthAdjust="spacingAndGlyphs">20</text>
<text x="30.0" y="292.1" textLength="17.6" lengthAdjust="spacingAndGlyphs">30</text>
<text x="30.0" y="214.1" textLength="17.6" lengthAdjust="spacingAndGlyphs">40</text>
<text x="30.0" y="137.1" textLength="17.6" lengthAdjust="spacingAndGlyphs">50</text>
<text x="30.0" y="59.1" textLength="17.6" lengthAdjust="spacingAndGlyphs">60</text>
<text x="467.1" y="576.7" textLength="75.6" lengthAdjust="spacingAndGlyphs">Time (UTC)</text>
<text transform="translate(19.6,352.6) rotate(-90)" textLength="135.2" lengthAdjust="spacingAndGlyphs">Bistatic Delay (km)</text>
</g>
<text x="422.6" y="24.2" font-size="16.9" textLength="162.8" lengthAdjust="spacingAndGlyphs" fill="#000">Detections in Delay</text>
</svg></body></html>
